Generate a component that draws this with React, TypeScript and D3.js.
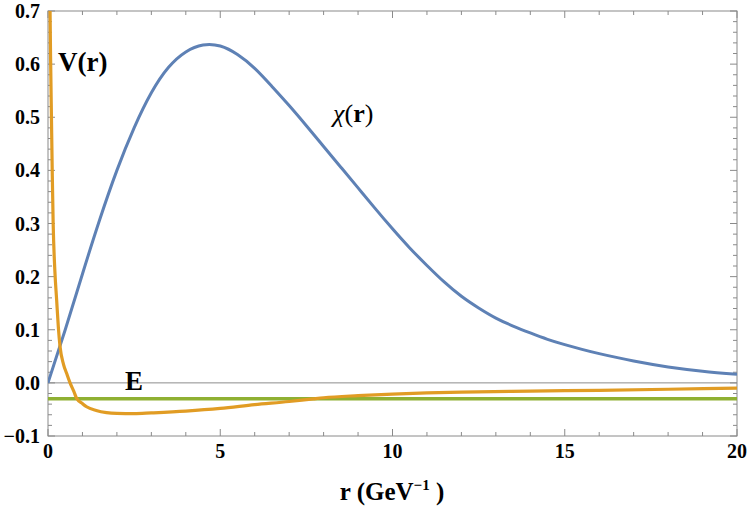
import React from "react";
import * as d3 from "d3";

const chiR = [0, 0.5, 1, 1.5, 2, 2.5, 3, 3.5, 4, 4.5, 5, 5.5, 6, 6.5, 7, 7.5, 8, 8.5, 9, 9.5, 10, 10.5, 11, 11.5, 12, 12.5, 13, 13.5, 14, 14.5, 15, 15.5, 16, 17, 18, 19, 20];
const chiV = [0, 0.1, 0.205, 0.307, 0.4, 0.48, 0.546, 0.594, 0.623, 0.636, 0.634, 0.618, 0.592, 0.558, 0.522, 0.484, 0.445, 0.406, 0.367, 0.328, 0.29, 0.254, 0.221, 0.19, 0.163, 0.141, 0.122, 0.107, 0.094, 0.082, 0.072, 0.063, 0.055, 0.041, 0.030, 0.022, 0.016];

const potR = [0.05, 0.06, 0.08, 0.1, 0.125, 0.15, 0.2, 0.25, 0.3, 0.35, 0.45, 0.54, 0.64, 0.75, 0.83, 1.0, 1.12, 1.4, 1.7, 2.0, 2.5, 3, 4, 5, 6, 7, 7.7, 8, 9, 10, 11, 12, 14, 16, 18, 20];
const potV = [0.82, 0.7, 0.59, 0.5, 0.39, 0.3, 0.21, 0.157, 0.105, 0.068, 0.035, 0.018, 0.0, -0.016, -0.029, -0.039, -0.045, -0.052, -0.056, -0.0575, -0.058, -0.0565, -0.053, -0.048, -0.041, -0.035, -0.03, -0.028, -0.024, -0.021, -0.019, -0.0175, -0.0155, -0.014, -0.012, -0.01];

const energy = -0.03;

const xTicks = [0, 5, 10, 15, 20];
const yTicks = [-0.1, 0.0, 0.1, 0.2, 0.3, 0.4, 0.5, 0.6, 0.7];

const W = 750, H = 513;
const L = 48, R = 737, T = 11, B = 436;

export default function App() {
  const x = d3.scaleLinear().domain([0, 20]).range([L, R]);
  const y = d3.scaleLinear().domain([-0.1, 0.7]).range([B, T]);
  const chiLine = d3.line<[number, number]>().x(d => x(d[0])).y(d => y(d[1])).curve(d3.curveNatural);
  const potLine = d3.line<[number, number]>().x(d => x(d[0])).y(d => y(d[1])).curve(d3.curveMonotoneX);
  const chiPath = chiLine(chiR.map((r, i) => [r, chiV[i]]) as [number, number][]) || "";
  const potPath = potLine(potR.map((r, i) => [r, potV[i]]) as [number, number][]) || "";

  const xMinor = d3.range(0, 21, 1);
  const yMinor = d3.range(-0.1, 0.7001, 0.02);
  const frame = "#8a8a8a";
  const font = "'Liberation Serif', 'Times New Roman', serif";

  return (
    <svg width={W} height={H} style={{ position: "absolute", left: 0, top: 0, background: "#fff" }}>
      <defs>
        <clipPath id="plot"><rect x={L} y={T} width={R - L} height={B - T} /></clipPath>
      </defs>
      <line x1={L} x2={R} y1={y(0)} y2={y(0)} stroke="#8c8c8c" strokeWidth={1} />
      {xMinor.map(v => {
        const major = v % 5 === 0;
        const len = major ? 7 : 4;
        return (
          <g key={"xt" + v}>
            <line x1={x(v)} x2={x(v)} y1={B} y2={B - len} stroke={frame} strokeWidth={1} />
            <line x1={x(v)} x2={x(v)} y1={T} y2={T + len} stroke={frame} strokeWidth={1} />
          </g>
        );
      })}
      {yMinor.map((v, i) => {
        const major = i % 5 === 0;
        const len = major ? 7 : 4;
        return (
          <g key={"yt" + i}>
            <line x1={L} x2={L + len} y1={y(v)} y2={y(v)} stroke={frame} strokeWidth={1} />
            <line x1={R} x2={R - len} y1={y(v)} y2={y(v)} stroke={frame} strokeWidth={1} />
          </g>
        );
      })}
      <rect x={L} y={T} width={R - L} height={B - T} fill="none" stroke={frame} strokeWidth={1} />
      <g clipPath="url(#plot)">
        <line x1={L} x2={R} y1={y(energy)} y2={y(energy)} stroke="#8fb032" strokeWidth={3.5} />
        <path d={chiPath} fill="none" stroke="#5e81b5" strokeWidth={3} />
        <path d={potPath} fill="none" stroke="#e19c24" strokeWidth={3.2} />
      </g>
      {xTicks.map(v => (
        <text key={"xl" + v} x={x(v)} y={458} textAnchor="middle" fontFamily={font} fontWeight="bold" fontSize={20} fill="#000">{v}</text>
      ))}
      {yTicks.map(v => (
        <text key={"yl" + v} x={40} y={y(v) + 7} textAnchor="end" fontFamily={font} fontWeight="bold" fontSize={20} fill="#000">{v < 0 ? "\u2212" + Math.abs(v).toFixed(1) : v.toFixed(1)}</text>
      ))}
      <text x={392} y={500} textAnchor="middle" fontFamily={font} fontWeight="bold" fontSize={25} fill="#000">
        r (GeV<tspan dy={-10} fontSize={15}>{"\u22121"}</tspan><tspan dy={10}> )</tspan>
      </text>
      <text x={58} y={71} fontFamily={font} fontWeight="bold" fontSize={27} fill="#000">V(r)</text>
      <text x={333} y={122} fontFamily={font} fontSize={26} fill="#000">
        <tspan fontStyle="italic">{"\u03c7"}</tspan><tspan>(</tspan><tspan fontWeight="bold">r</tspan><tspan>)</tspan>
      </text>
      <text x={125} y={390} fontFamily={font} fontWeight="bold" fontSize={27} fill="#000">E</text>
    </svg>
  );
}
